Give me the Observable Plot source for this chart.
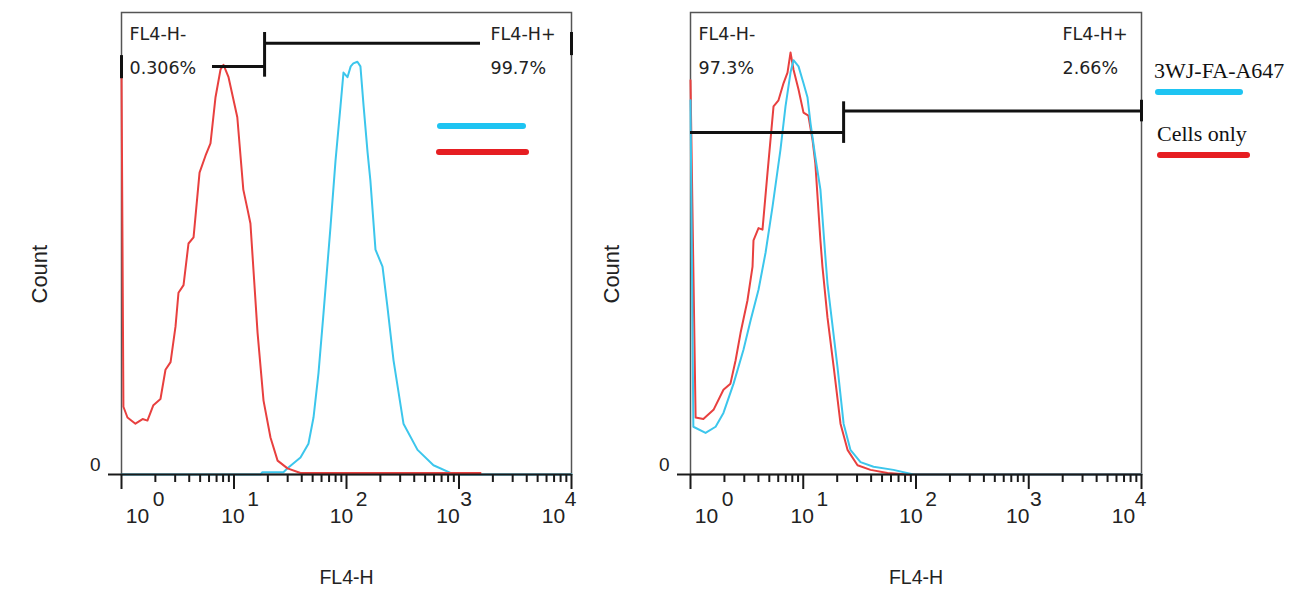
<!DOCTYPE html>
<html><head><meta charset="utf-8">
<script src="https://cdn.jsdelivr.net/npm/d3@7"></script>
<script src="https://cdn.jsdelivr.net/npm/@observablehq/plot@0.6"></script>
<style>
body{margin:0;background:#fff;}
#wrap{position:relative;width:1290px;height:589px;overflow:hidden;background:#fff;}
#wrap .panel{position:absolute;top:0;}
#overlay{position:absolute;left:0;top:0;pointer-events:none;}
</style></head>
<body><div id="wrap"></div>
<script>
// ---------- data (FL4-H value, count) ----------
const decades = [1, 10, 100, 1000, 10000];
const exponents = ["0", "1", "2", "3", "4"];
const minorMultipliers = [2, 3, 4, 5, 6, 7, 8, 9];

const leftCellsOnly = [[1,263],[1.04,44],[1.13,37],[1.33,33],[1.54,36],[1.70,35],[1.92,45],[2.22,49],[2.46,68],[2.73,73],[3.02,96],[3.21,118],[3.56,123],[3.94,150],[4.37,154],[4.94,196],[5.58,207],[6.18,215],[6.85,245],[7.59,263],[8.07,266],[8.94,258],[10.7,232],[12.1,185],[13.2,172],[14.0,163],[16.2,92],[18.3,48],[21.1,24],[24.4,9],[29.9,4],[39.0,1],[1553,1]];
const leftA647 = [[1,0],[17.2,0],[17.9,1.5],[27.5,1.5],[29.9,4],[39.0,11],[45.9,20],[50.9,37],[56.4,66],[62.5,105],[72.1,161],[79.9,204],[88.4,239],[94.0,261],[102,258],[109,265],[115,267],[125,268],[133,265],[142,239],[154,209],[163,191],[181,146],[209,135],[231,109],[262,74],[321,33],[428,16],[593,6],[840,1],[1031,0],[10000,0]];
const rightCellsOnly = [[1,256],[1.11,37],[1.30,36],[1.60,42],[1.96,55],[2.26,59],[2.51,74],[2.78,92],[3.20,113],[3.55,135],[3.62,152],[4.01,160],[4.35,159],[4.82,196],[5.45,239],[6.03,243],[6.68,254],[7.25,261],[7.71,274],[8.19,263],[9.08,250],[10.05,235],[11.1,233],[12.1,217],[12.8,202],[14.2,152],[14.8,135],[16.4,102],[18.6,70],[21.4,33],[24.7,16],[30.3,6],[39.5,3],[55.9,1],[84.1,0],[10000,0]];
const rightA647 = [[1,243],[1.06,31],[1.36,27],[1.67,31],[1.96,40],[2.41,59],[2.95,81],[3.41,100],[4.01,120],[4.63,144],[5.34,174],[6.28,211],[6.96,239],[7.71,261],[8.19,269],[9.08,265],[10.05,254],[10.9,245],[11.6,228],[12.8,206],[14.2,185],[15.8,139],[16.4,124],[20.1,70],[22.8,33],[26.2,16],[32.2,8],[42.0,5],[63.2,3],[95.0,0],[10000,0]];

// gates: [x1, x2, count]; dividers: [x, count1, count2]
const leftGates = [[6.44, 18.7, 265], [18.7, 1553, 280]];
const leftDividers = [[18.7, 258, 287], [1, 257, 272], [10000, 272, 287]];
const rightGates = [[1, 22.8, 222], [22.8, 10000, 236]];
const rightDividers = [[22.8, 215, 242], [10000, 229, 243]];

const leftGateLabels = ["FL4-H-", "0.306%", "FL4-H+", "99.7%"];
const rightGateLabels = ["FL4-H-", "97.3%", "FL4-H+", "2.66%"];
const seriesNames = ["3WJ-FA-A647", "Cells only"];
const xTitle = "FL4-H";
const yTitle = "Count";

// ---------- style ----------
const CYAN = "#3cc6ec", RED = "#e8403f";
const LEG_CYAN = "#1ec4f2", LEG_RED = "#e61e22";
const FONT = "'Liberation Sans', Arial, sans-serif";
const GATE_FONT = "'DejaVu Sans', sans-serif";
const TXT = "#222";
const baseDx = [16, -1, -5, -11, -18];
const expDx = [37, 19, 15, 7, -1];

const minorTicks = decades.slice(0, 4).flatMap(d => minorMultipliers.map(m => m * d));

function panel(opts) {
  const {width, marginLeft, marginRight, curves, gates, dividers, labels, posDx, countDx} = opts;
  const tickLabelMarks = decades.flatMap((d, i) => [
    Plot.text([d], {x: v => v, frameAnchor: "bottom", dy: 48, dx: baseDx[i], text: () => "10", fontSize: 21, fill: TXT}),
    Plot.text([d], {x: v => v, frameAnchor: "bottom", dy: 31, dx: expDx[i], text: () => exponents[i], fontSize: 21, fill: TXT})
  ]);
  const gateText = (t, anchor, dx, dy) => Plot.text([t], {frameAnchor: anchor, textAnchor: "start", dx, dy, fontSize: 17.5, fontFamily: GATE_FONT, fill: TXT});
  return Plot.plot({
    width, height: 589,
    marginLeft, marginRight, marginTop: 12, marginBottom: 115,
    style: {fontFamily: FONT, background: "transparent", overflow: "visible"},
    x: {type: "log", domain: [1, 10000]},
    y: {domain: [0, 300]},
    marks: [
      Plot.frame({stroke: "#555", strokeWidth: 1.5}),
      ...curves.map(c => Plot.line(c.data, {x: d => d[0], y: d => d[1], stroke: c.color, strokeWidth: 2, curve: "linear"})),
      Plot.ruleY([0], {stroke: "#1a1a1a", strokeWidth: 2}),
      Plot.axisX(decades, {tickSize: 15, tickFormat: () => "", label: null, stroke: "#1a1a1a", strokeWidth: 2}),
      Plot.axisX(minorTicks, {tickSize: 8, tickFormat: () => "", label: null, stroke: "#1a1a1a", strokeWidth: 2}),
      Plot.axisY([0], {tickSize: 13, tickFormat: () => "", label: null, stroke: "#1a1a1a", strokeWidth: 2}),
      ...tickLabelMarks,
      Plot.text(["0"], {frameAnchor: "bottom-left", textAnchor: "end", dx: -21, dy: -4, fontSize: 19, fill: TXT}),
      Plot.text([xTitle], {frameAnchor: "bottom", dy: 109, fontSize: 19.5, fill: TXT}),
      Plot.text([yTitle], {frameAnchor: "left", rotate: -90, dx: countDx, dy: 60, fontSize: 22, fill: TXT}),
      Plot.ruleY(gates, {x1: d => d[0], x2: d => d[1], y: d => d[2], stroke: "#111", strokeWidth: 3}),
      Plot.ruleX(dividers, {x: d => d[0], y1: d => d[1], y2: d => d[2], stroke: "#111", strokeWidth: 3}),
      gateText(labels[0], "top-left", 8, 15),
      gateText(labels[1], "top-left", 8, 49),
      gateText(labels[2], "top-right", posDx, 15),
      gateText(labels[3], "top-right", posDx, 49)
    ]
  });
}

const wrap = document.getElementById("wrap");

const left = panel({
  width: 600, marginLeft: 121, marginRight: 29,
  curves: [{data: leftA647, color: CYAN}, {data: leftCellsOnly, color: RED}],
  gates: leftGates, dividers: leftDividers, labels: leftGateLabels, posDx: -81, countDx: -82
});
const leftDiv = document.createElement("div");
leftDiv.className = "panel"; leftDiv.style.left = "0px";
leftDiv.appendChild(left); wrap.appendChild(leftDiv);

const right = panel({
  width: 721, marginLeft: 121, marginRight: 149,
  curves: [{data: rightCellsOnly, color: RED}, {data: rightA647, color: CYAN}],
  gates: rightGates, dividers: rightDividers, labels: rightGateLabels, posDx: -79, countDx: -79
});
const rightDiv = document.createElement("div");
rightDiv.className = "panel"; rightDiv.style.left = "569px";
rightDiv.appendChild(right); wrap.appendChild(rightDiv);

// legend overlay
const svg = d3.select(wrap).append("svg").attr("id", "overlay").attr("width", 1290).attr("height", 589);
const legLines = [
  {x1: 440, x2: 523, y: 126, c: LEG_CYAN}, {x1: 439, x2: 526, y: 152, c: LEG_RED},
  {x1: 1158, x2: 1240, y: 92, c: LEG_CYAN}, {x1: 1160, x2: 1247, y: 155, c: LEG_RED}
];
svg.selectAll("line").data(legLines).join("line")
  .attr("x1", d => d.x1).attr("x2", d => d.x2).attr("y1", d => d.y).attr("y2", d => d.y)
  .attr("stroke", d => d.c).attr("stroke-width", 6).attr("stroke-linecap", "round");
svg.selectAll("text").data([{t: seriesNames[0], x: 1154, y: 78}, {t: seriesNames[1], x: 1157, y: 141}]).join("text")
  .attr("x", d => d.x).attr("y", d => d.y).text(d => d.t)
  .attr("font-family", "'Liberation Serif', 'Times New Roman', serif").attr("font-size", 22)
  .attr("fill", "#111");
</script>
</body></html>
